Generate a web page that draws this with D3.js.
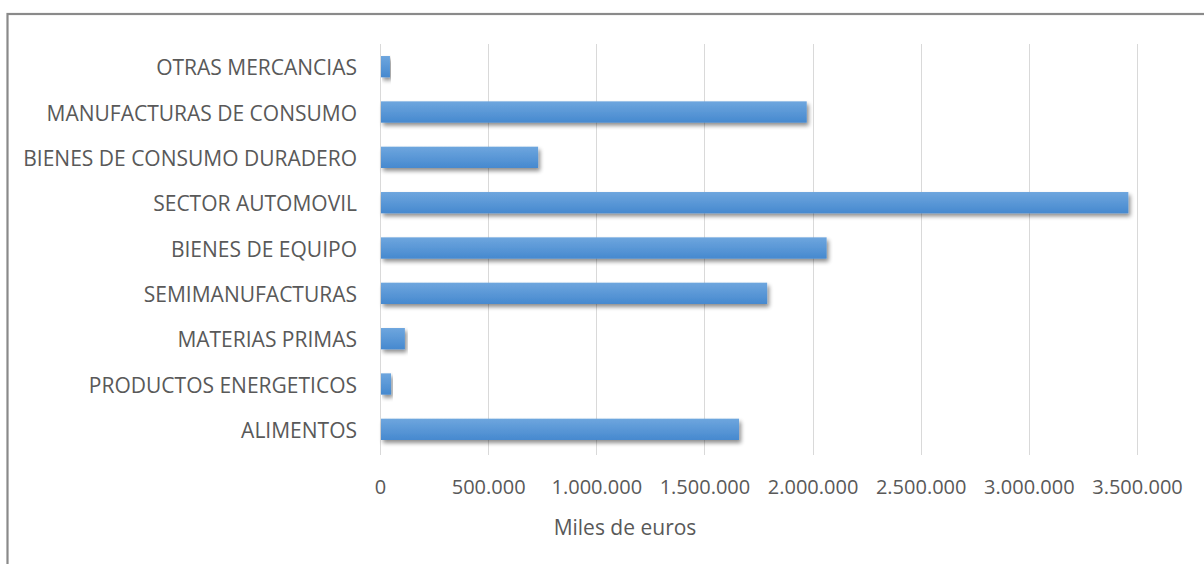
<!DOCTYPE html>
<html><head><meta charset="utf-8">
<script src="https://cdn.jsdelivr.net/npm/d3@7/dist/d3.min.js"></script>
<style>body{margin:0;background:#fff;}svg{display:block;}</style>
</head><body>
<script>
const categories = ["OTRAS MERCANCIAS","MANUFACTURAS DE CONSUMO","BIENES DE CONSUMO DURADERO","SECTOR AUTOMOVIL","BIENES DE EQUIPO","SEMIMANUFACTURAS","MATERIAS PRIMAS","PRODUCTOS ENERGETICOS","ALIMENTOS"];
const values = [46000, 1973000, 731000, 3460000, 2065000, 1790000, 115000, 51000, 1660000];
const tickValues = [0, 500000, 1000000, 1500000, 2000000, 2500000, 3000000, 3500000];
const tickLabels = ["0","500.000","1.000.000","1.500.000","2.000.000","2.500.000","3.000.000","3.500.000"];
const axisTitle = "Miles de euros";

const W = 1204, H = 564;
const font = "'Open Sans',sans-serif";
const svg = d3.select("body").append("svg").attr("width", W).attr("height", H);

const defs = svg.append("defs");
const grad = defs.append("linearGradient").attr("id","bg").attr("x1",0).attr("y1",0).attr("x2",0).attr("y2",1);
grad.append("stop").attr("offset","0%").attr("stop-color","#6ea6de");
grad.append("stop").attr("offset","100%").attr("stop-color","#4689cf");
const f = defs.append("filter").attr("id","sh").attr("x","-5%").attr("y","-30%").attr("width","115%").attr("height","180%");
f.append("feGaussianBlur").attr("in","SourceAlpha").attr("stdDeviation",2);
f.append("feOffset").attr("dx",2).attr("dy",3).attr("result","ob");
f.append("feComponentTransfer").append("feFuncA").attr("type","linear").attr("slope",0.45);
const m = f.append("feMerge"); m.append("feMergeNode"); m.append("feMergeNode").attr("in","SourceGraphic");

// border
svg.append("rect").attr("x",7.5).attr("y",14).attr("width",W).attr("height",H)
  .attr("fill","none").attr("stroke","#8a8a8a").attr("stroke-width",2.2);

const x0 = 380, plotTop = 44, plotBottom = 452;
const x = d3.scaleLinear().domain([0, 3500000]).range([x0, x0 + 757]);
const y = d3.scaleBand().domain(categories).range([plotTop, plotBottom]).paddingInner(0.53).paddingOuter(0.265);

// gridlines
svg.append("g").selectAll("line").data(tickValues).join("line")
  .attr("x1", d => Math.round(x(d)) + 0.5).attr("x2", d => Math.round(x(d)) + 0.5)
  .attr("y1", plotTop).attr("y2", plotBottom + 3)
  .attr("stroke","#d9d9d9").attr("stroke-width",1);

// bars
svg.append("g").selectAll("rect").data(categories).join("rect")
  .attr("x", x(0)+1).attr("y", d => y(d))
  .attr("width", (d,i) => x(values[i]) - x(0) - 1).attr("height", y.bandwidth())
  .attr("fill","url(#bg)").attr("filter","url(#sh)");

// category axis labels
const yAxis = d3.axisLeft(y).tickSize(0).tickPadding(23);
const ga = svg.append("g").attr("transform",`translate(${x0},0)`).call(yAxis);
ga.select(".domain").remove();
ga.selectAll("text").attr("font-family",font).attr("font-size",21).attr("fill","#595959").attr("dy","0.42em");

// value axis
const xAxis = d3.axisBottom(x).tickValues(tickValues).tickFormat((d,i)=>tickLabels[i]).tickSize(0).tickPadding(27);
const gx = svg.append("g").attr("transform",`translate(0,${plotBottom})`).call(xAxis);
gx.select(".domain").remove();
gx.selectAll("text").attr("font-family",font).attr("font-size",20).attr("fill","#595959").attr("dy",null).attr("y",42);

svg.append("text").attr("x",625).attr("y",535).attr("text-anchor","middle")
  .attr("font-family",font).attr("font-size",21).attr("fill","#595959").text(axisTitle);
</script>
</body></html>
